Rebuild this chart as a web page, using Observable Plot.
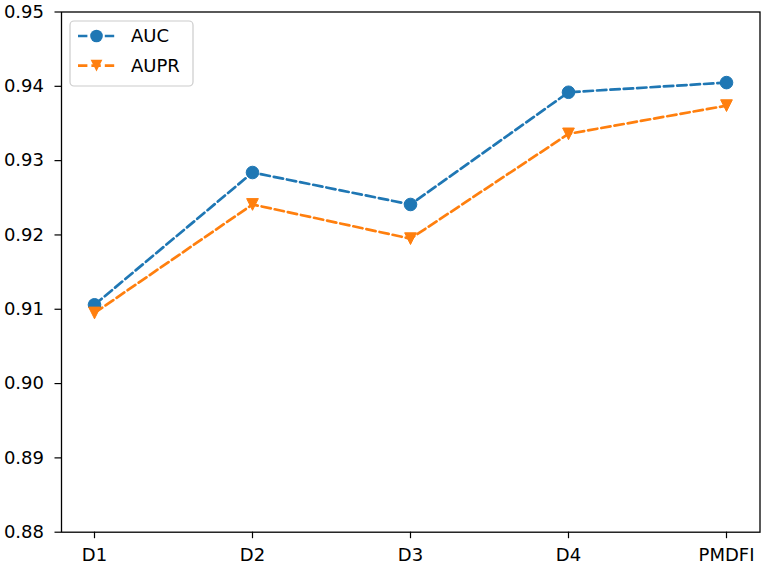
<!DOCTYPE html>
<html>
<head>
<meta charset="utf-8">
<script src="https://cdn.jsdelivr.net/npm/d3@7"></script>
<script src="https://cdn.jsdelivr.net/npm/@observablehq/plot@0.6"></script>
<style>
  html, body { margin: 0; padding: 0; background: #fff; }
  #chart svg { display: block; }
</style>
</head>
<body>
<div id="chart"></div>
<script>
const categories = ["D1", "D2", "D3", "D4", "PMDFI"];
const aucValues = [0.9106, 0.9284, 0.9241, 0.9392, 0.9405];
const auprValues = [0.9095, 0.9241, 0.9195, 0.9336, 0.9374];
const yTicks = [0.88, 0.89, 0.90, 0.91, 0.92, 0.93, 0.94, 0.95];
const seriesNames = ["AUC", "AUPR"];
const seriesColors = ["#1f77b4", "#ff7f0e"];

const auc = categories.map((c, i) => ({cat: c, value: aucValues[i]}));
const aupr = categories.map((c, i) => ({cat: c, value: auprValues[i]}));

const triangleDown = {
  draw(context, size) {
    const s = Math.sqrt(size / Math.PI) * 0.9;
    context.moveTo(-s, -s);
    context.lineTo(s, -s);
    context.lineTo(0, s);
    context.closePath();
  }
};

const dash = "9.4,4";

const chart = Plot.plot({
  width: 765,
  height: 564,
  marginLeft: 61,
  marginRight: 5.5,
  marginTop: 11.5,
  marginBottom: 32.3,
  style: {fontFamily: "DejaVu Sans", fontSize: "18px", color: "#000", background: "#fff"},
  x: {type: "point", domain: categories, padding: 0.2, label: null},
  y: {domain: [0.88, 0.95], label: null},
  marks: [
    Plot.axisX({ticks: categories, tickSize: 6.5, tickPadding: 10, stroke: "#000", strokeWidth: 1.2, fontSize: 18, label: null}),
    Plot.axisY({ticks: yTicks, tickFormat: d3.format(".2f"), tickSize: 6.5, tickPadding: 11, stroke: "#000", strokeWidth: 1.2, fontSize: 18, label: null}),
    Plot.line(auc, {x: "cat", y: "value", stroke: seriesColors[0], strokeWidth: 2.7, strokeDasharray: dash}),
    Plot.line(aupr, {x: "cat", y: "value", stroke: seriesColors[1], strokeWidth: 2.7, strokeDasharray: dash}),
    Plot.dot(auc, {x: "cat", y: "value", r: 6.3, fill: seriesColors[0], stroke: seriesColors[0], strokeWidth: 1, symbol: "circle"}),
    Plot.dot(aupr, {x: "cat", y: "value", r: 6.5, fill: seriesColors[1], stroke: seriesColors[1], strokeWidth: 1, symbol: triangleDown}),
    Plot.frame({stroke: "#000", strokeWidth: 1.3})
  ]
});

// Legend (matplotlib-style, upper left)
const svg = d3.select(chart);
const lg = svg.append("g").attr("font-family", "DejaVu Sans").attr("font-size", 18).attr("text-anchor", "start");
lg.append("rect")
  .attr("x", 70).attr("y", 21).attr("width", 123).attr("height", 65)
  .attr("rx", 4).attr("fill", "#fff").attr("fill-opacity", 0.8)
  .attr("stroke", "#cccccc").attr("stroke-width", 1.2);
seriesNames.forEach((name, i) => {
  const yy = 36 + i * 29.7;
  lg.append("line").attr("x1", 78).attr("x2", 115).attr("y1", yy).attr("y2", yy)
    .attr("stroke", seriesColors[i]).attr("stroke-width", 2.7).attr("stroke-dasharray", dash);
  if (i === 0) {
    lg.append("circle").attr("cx", 96.5).attr("cy", yy).attr("r", 6.3).attr("fill", seriesColors[i]);
  } else {
    const s = 5.85;
    lg.append("path").attr("d", `M${96.5 - s},${yy - s}L${96.5 + s},${yy - s}L96.5,${yy + s}Z`).attr("fill", seriesColors[i]);
  }
  lg.append("text").attr("x", 131).attr("y", yy).attr("dy", "0.36em").attr("text-anchor", "start").text(name);
});

document.getElementById("chart").appendChild(chart);
</script>
</body>
</html>
